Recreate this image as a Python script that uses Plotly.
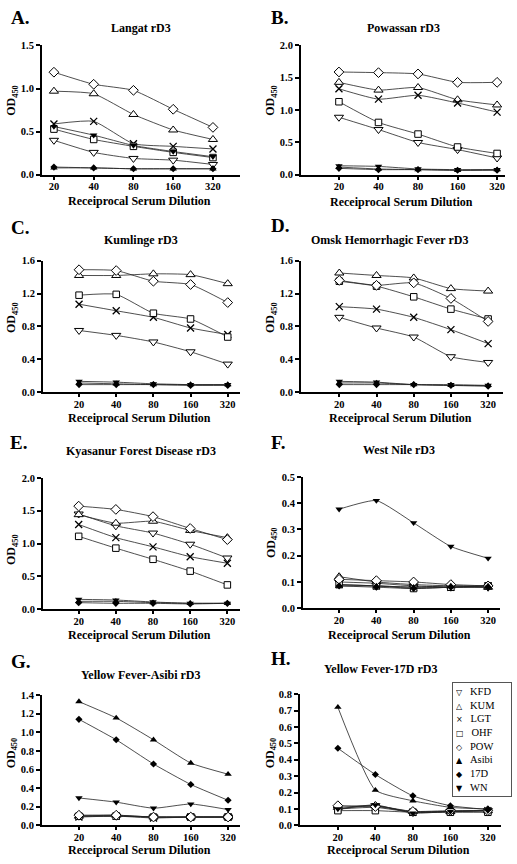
import math
import plotly.graph_objects as go

W, H = 517, 864

# ---------------- data ----------------
DILUTIONS = [20, 40, 80, 160, 320]
TICK_TEXT = ["20", "40", "80", "160", "320"]
SERA = ["KFD", "KUM", "LGT", "OHF", "POW", "Asibi", "17D", "WN"]

LANGAT = {
    "KFD":   [0.40, 0.26, 0.19, 0.17, 0.12],
    "KUM":   [0.97, 0.94, 0.70, 0.52, 0.41],
    "LGT":   [0.59, 0.62, 0.36, 0.33, 0.30],
    "OHF":   [0.53, 0.41, 0.33, 0.26, 0.20],
    "POW":   [1.19, 1.05, 0.98, 0.76, 0.55],
    "Asibi": [0.08, 0.08, 0.07, 0.07, 0.07],
    "17D":   [0.09, 0.08, 0.07, 0.07, 0.07],
    "WN":    [0.56, 0.46, 0.34, 0.27, 0.21],
}
POWASSAN = {
    "KFD":   [0.89, 0.70, 0.50, 0.39, 0.26],
    "KUM":   [1.43, 1.31, 1.35, 1.16, 1.08],
    "LGT":   [1.33, 1.17, 1.23, 1.11, 0.97],
    "OHF":   [1.13, 0.81, 0.63, 0.43, 0.33],
    "POW":   [1.59, 1.58, 1.56, 1.43, 1.43],
    "Asibi": [0.12, 0.09, 0.08, 0.07, 0.08],
    "17D":   [0.10, 0.08, 0.08, 0.07, 0.07],
    "WN":    [0.14, 0.13, 0.09, 0.08, 0.08],
}
KUMLINGE = {
    "KFD":   [0.75, 0.69, 0.61, 0.49, 0.34],
    "KUM":   [1.42, 1.42, 1.44, 1.43, 1.32],
    "LGT":   [1.07, 0.99, 0.91, 0.78, 0.70],
    "OHF":   [1.18, 1.19, 0.96, 0.89, 0.67],
    "POW":   [1.49, 1.48, 1.35, 1.31, 1.09],
    "Asibi": [0.11, 0.10, 0.09, 0.09, 0.09],
    "17D":   [0.09, 0.09, 0.09, 0.08, 0.08],
    "WN":    [0.13, 0.12, 0.10, 0.09, 0.09],
}
OMSK = {
    "KFD":   [0.91, 0.78, 0.67, 0.43, 0.36],
    "KUM":   [1.45, 1.42, 1.39, 1.26, 1.23],
    "LGT":   [1.04, 1.01, 0.91, 0.76, 0.59],
    "OHF":   [1.35, 1.29, 1.16, 1.01, 0.89],
    "POW":   [1.36, 1.30, 1.33, 1.14, 0.86],
    "Asibi": [0.11, 0.11, 0.09, 0.08, 0.08],
    "17D":   [0.09, 0.09, 0.09, 0.08, 0.07],
    "WN":    [0.13, 0.12, 0.09, 0.09, 0.08],
}
KYASANUR = {
    "KFD":   [1.45, 1.27, 1.16, 0.99, 0.78],
    "KUM":   [1.44, 1.31, 1.34, 1.20, 1.09],
    "LGT":   [1.29, 1.09, 0.95, 0.80, 0.70],
    "OHF":   [1.11, 0.93, 0.76, 0.58, 0.37],
    "POW":   [1.57, 1.52, 1.41, 1.23, 1.06],
    "Asibi": [0.12, 0.12, 0.10, 0.09, 0.09],
    "17D":   [0.10, 0.09, 0.09, 0.08, 0.09],
    "WN":    [0.15, 0.14, 0.11, 0.09, 0.09],
}
WEST_NILE = {
    "KFD":   [0.100, 0.095, 0.085, 0.080, 0.080],
    "KUM":   [0.120, 0.100, 0.090, 0.085, 0.080],
    "LGT":   [0.090, 0.085, 0.080, 0.080, 0.085],
    "OHF":   [0.090, 0.085, 0.075, 0.080, 0.085],
    "POW":   [0.110, 0.105, 0.100, 0.090, 0.085],
    "Asibi": [0.085, 0.085, 0.080, 0.085, 0.085],
    "17D":   [0.085, 0.080, 0.075, 0.080, 0.080],
    "WN":    [0.377, 0.410, 0.325, 0.235, 0.190],
}
YF_ASIBI = {
    "KFD":   [0.10, 0.10, 0.09, 0.09, 0.09],
    "KUM":   [0.10, 0.11, 0.09, 0.09, 0.09],
    "LGT":   [0.09, 0.10, 0.08, 0.09, 0.09],
    "OHF":   [0.10, 0.10, 0.09, 0.09, 0.09],
    "POW":   [0.11, 0.11, 0.09, 0.09, 0.09],
    "Asibi": [1.33, 1.155, 0.92, 0.67, 0.55],
    "17D":   [1.14, 0.92, 0.66, 0.44, 0.27],
    "WN":    [0.295, 0.25, 0.185, 0.23, 0.17],
}
YF_17D = {
    "KFD":   [0.100, 0.120, 0.080, 0.085, 0.090],
    "KUM":   [0.110, 0.120, 0.085, 0.085, 0.090],
    "LGT":   [0.100, 0.110, 0.080, 0.085, 0.090],
    "OHF":   [0.090, 0.090, 0.080, 0.080, 0.080],
    "POW":   [0.120, 0.115, 0.085, 0.090, 0.090],
    "Asibi": [0.720, 0.215, 0.150, 0.110, 0.100],
    "17D":   [0.470, 0.310, 0.180, 0.120, 0.097],
    "WN":    [0.100, 0.125, 0.075, 0.085, 0.090],
}

# ---------------- styles ----------------
SERIF = "Liberation Serif, Times New Roman, serif"
MARKERS = {
    "KFD":   dict(symbol="triangle-down", size=8, color="white", line=dict(color="black", width=1)),
    "KUM":   dict(symbol="triangle-up", size=8, color="white", line=dict(color="black", width=1)),
    "LGT":   dict(symbol="x-thin", size=7, color="black", line=dict(color="black", width=1.3)),
    "OHF":   dict(symbol="square", size=6.5, color="white", line=dict(color="black", width=1)),
    "POW":   dict(symbol="diamond", size=7.5, color="white", line=dict(color="black", width=1)),
    "Asibi": dict(symbol="triangle-up", size=6.5, color="black", line=dict(color="black", width=0)),
    "17D":   dict(symbol="diamond", size=5.5, color="black", line=dict(color="black", width=0)),
    "WN":    dict(symbol="triangle-down", size=6.5, color="black", line=dict(color="black", width=0)),
}
LEGEND_GLYPH = {"KFD": "▽", "KUM": "△", "LGT": "×", "OHF": "□", "POW": "◇",
                "Asibi": "▲", "17D": "◆", "WN": "▼"}

# panel layout (pixel boxes) -- not data
PANELS = [
    dict(letter="A.", title="Langat rD3", data=LANGAT, box=(42, 240, 41, 172), yr=1.5, dt=0.5,
         xi=(-0.30, 4.68), title_xy=(141, 23), letter_xy=(9, 13), ylab_xy=(12, 97), xlab_y=199),
    dict(letter="B.", title="Powassan rD3", data=POWASSAN, box=(301, 505, 41, 172), yr=2.0, dt=0.5,
         xi=(-0.96, 4.20), title_xy=(403, 23), letter_xy=(269, 13), ylab_xy=(271, 97), xlab_y=200),
    dict(letter="C.", title="Kumlinge rD3", data=KUMLINGE, box=(43, 240, 259, 392), yr=1.6, dt=0.4,
         xi=(-0.97, 4.33), title_xy=(141, 238), letter_xy=(9, 225), ylab_xy=(12, 317), xlab_y=418),
    dict(letter="D.", title="Omsk Hemorrhagic Fever rD3", data=OMSK, box=(301, 503, 259, 392), yr=1.6, dt=0.4,
         xi=(-1.03, 4.40), title_xy=(389, 238), letter_xy=(269, 223), ylab_xy=(271, 317), xlab_y=418),
    dict(letter="E.", title="Kyasanur Forest Disease rD3", data=KYASANUR, box=(43, 240, 479, 612), yr=2.0, dt=0.5,
         xi=(-0.96, 4.34), title_xy=(141, 452), letter_xy=(8, 443), ylab_xy=(12, 552), xlab_y=638),
    dict(letter="F.", title="West Nile rD3", data=WEST_NILE, box=(303, 500, 478, 611), yr=0.5, dt=0.1,
         xi=(-0.97, 4.32), title_xy=(399, 451), letter_xy=(269, 443), ylab_xy=(272, 545), xlab_y=638),
    dict(letter="G.", title="Yellow Fever-Asibi rD3", data=YF_ASIBI, box=(42, 240, 699, 831), yr=1.4, dt=0.2,
         xi=(-0.99, 4.32), title_xy=(141, 679), letter_xy=(9, 665), ylab_xy=(12, 758), xlab_y=856),
    dict(letter="H.", title="Yellow Fever-17D rD3", data=YF_17D, box=(300, 501, 698, 831), yr=0.8, dt=0.1,
         xi=(-1.01, 4.35), title_xy=(381, 673), letter_xy=(269, 662), ylab_xy=(271, 758), xlab_y=856),
]


def px(x):
    return x / W


def py(y):
    return 1 - y / H


fig = go.Figure()
annotations = []
L20, L2 = math.log10(20), math.log10(2)
TICKFONT = dict(family=SERIF, size=10.5, color="black", weight="bold")

for i, p in enumerate(PANELS, start=1):
    xa = "x" if i == 1 else f"x{i}"
    ya = "y" if i == 1 else f"y{i}"
    xk = "xaxis" if i == 1 else f"xaxis{i}"
    yk = "yaxis" if i == 1 else f"yaxis{i}"
    x0, x1, y0, y1 = p["box"]
    for s in SERA:
        fig.add_trace(go.Scatter(
            x=DILUTIONS, y=p["data"][s], xaxis=xa, yaxis=ya, name=s,
            mode="lines+markers", showlegend=False,
            line=dict(color="#222222", width=0.8, shape="spline", smoothing=0.5),
            marker=MARKERS[s], cliponaxis=False,
        ))
    fig.layout[xk] = dict(
        domain=[px(x0), px(x1)], anchor=ya, type="log",
        range=[L20 + p["xi"][0] * L2, L20 + p["xi"][1] * L2],
        tickvals=DILUTIONS, ticktext=TICK_TEXT, ticks="outside", ticklen=3, tickwidth=1.5,
        tickcolor="black", showline=True, linecolor="black", linewidth=2,
        showgrid=False, zeroline=False, tickfont=TICKFONT, ticklabelstandoff=-2,
    )
    fig.layout[yk] = dict(
        domain=[py(y1), py(y0)], anchor=xa, range=[0, p["yr"]],
        tick0=0, dtick=p["dt"], tickformat=".1f", ticks="outside", ticklen=4, tickwidth=1.5,
        tickcolor="black", showline=True, linecolor="black", linewidth=2,
        showgrid=False, zeroline=False, tickfont=TICKFONT,
    )
    # panel letter
    lx, ly = p["letter_xy"]
    annotations.append(dict(text=f"<b>{p['letter']}</b>", x=px(lx), y=py(ly), xref="paper", yref="paper",
                            xanchor="left", yanchor="middle", showarrow=False,
                            font=dict(family=SERIF, size=19, color="black")))
    # title
    tx, ty = p["title_xy"]
    annotations.append(dict(text=f"<b>{p['title']}</b>", x=px(tx), y=py(ty), xref="paper", yref="paper",
                            xanchor="center", yanchor="middle", showarrow=False,
                            font=dict(family=SERIF, size=12, color="black")))
    # y label
    yx, yy = p["ylab_xy"]
    annotations.append(dict(text="<b>OD<sub>450</sub></b>", x=px(yx), y=py(yy), xref="paper", yref="paper",
                            xanchor="center", yanchor="middle", showarrow=False, textangle=-90,
                            font=dict(family=SERIF, size=12, color="black")))
    # x label
    annotations.append(dict(text="<b>Receiprocal Serum Dilution</b>", x=px((x0 + x1) / 2 - 2), y=py(p["xlab_y"]),
                            xref="paper", yref="paper", xanchor="center", yanchor="middle", showarrow=False,
                            font=dict(family=SERIF, size=12, color="black")))

# legend box (panel H)
nb = "\u00a0"
legend_lines = []
for s in SERA:
    legend_lines.append(
        f"<span style='font-family:DejaVu Sans;font-size:8px'>{LEGEND_GLYPH[s]}</span>{nb*3}{s}"
    )
annotations.append(dict(
    text="<br>".join(legend_lines), x=px(452), y=py(686), xref="paper", yref="paper",
    xanchor="left", yanchor="top", align="left", showarrow=False,
    bordercolor="#555555", borderwidth=1, borderpad=3, bgcolor="white", width=52,
    font=dict(family=SERIF, size=10.5, color="black"),
))

fig.update_layout(
    width=W, height=H, margin=dict(l=0, r=0, t=0, b=0),
    paper_bgcolor="white", plot_bgcolor="white",
    showlegend=False, annotations=annotations,
)

fig.write_html(
    "out.html",
    config={"displayModeBar": False},
    post_script="document.body.style.margin='0px';document.body.style.padding='0px';",
)
